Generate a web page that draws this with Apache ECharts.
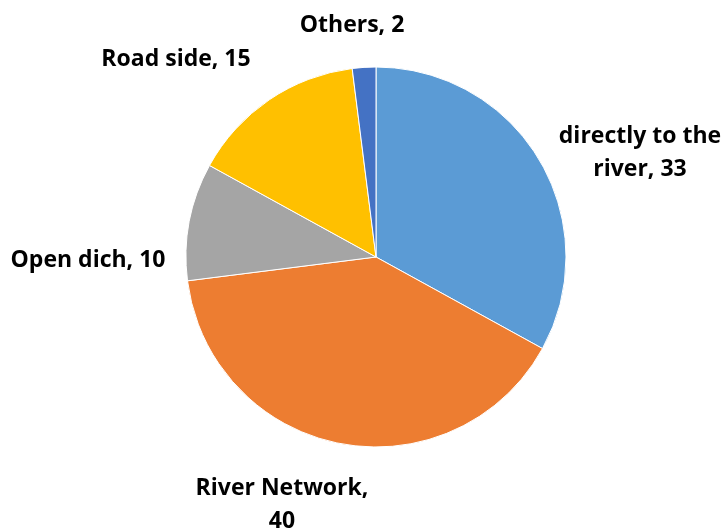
<!DOCTYPE html>
<html><head><meta charset="utf-8">
<script src="https://cdn.jsdelivr.net/npm/echarts@6/dist/echarts.min.js"></script>
<style>html,body{margin:0;padding:0;background:#fff}#c{width:724px;height:529px}</style>
</head><body><div id="c"></div>
<script>
const categories = ['directly to the river', 'River Network', 'Open dich', 'Road side', 'Others'];
const values = [33, 40, 10, 15, 2];
const colors = ['#5B9BD5', '#ED7D31', '#A5A5A5', '#FFC000', '#4472C4'];
const labelTexts = ['directly to the\nriver, 33', 'River Network,\n40', 'Open dich, 10', 'Road side, 15', 'Others, 2'];
// label anchor (center) positions in pixels, layout only
const labelPos = [[640, 153], [282, 505], [88, 260], [176, 59], [352, 25]];

const chart = echarts.init(document.getElementById('c'), null, {renderer: 'canvas'});
chart.setOption({
  animation: false,
  series: [{
    type: 'pie',
    center: [376, 257],
    radius: 190,
    startAngle: 90,
    clockwise: true,
    data: categories.map((n, i) => ({name: n, value: values[i], itemStyle: {color: colors[i]}})),
    itemStyle: {borderColor: '#fff', borderWidth: 1},
    label: {
      show: true, position: 'outside', overflow: 'none', edgeDistance: 0,
      formatter: p => labelTexts[p.dataIndex],
      fontFamily: 'Open Sans', fontWeight: 'bold', fontSize: 23, color: '#000',
      lineHeight: 33
    },
    labelLine: {show: false},
    labelLayout: p => ({
      x: labelPos[p.dataIndex][0], y: labelPos[p.dataIndex][1],
      align: 'center', verticalAlign: 'middle', hideOverlap: false
    })
  }]
});
</script></body></html>
